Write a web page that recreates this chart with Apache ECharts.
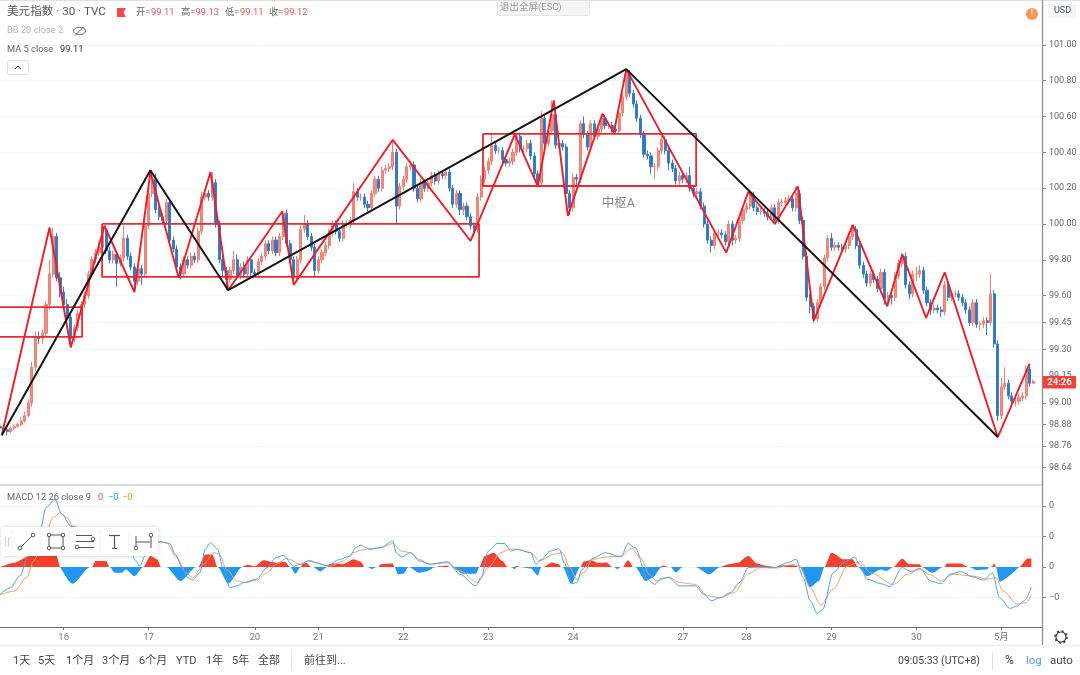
<!DOCTYPE html>
<html>
<head>
<meta charset="utf-8">
<style>html,body{margin:0;padding:0;background:#fff}#chart{width:1080px;height:675px}</style>
<script src="https://cdn.jsdelivr.net/npm/echarts@6/dist/echarts.min.js"></script>
</head>
<body>
<div id="chart"></div>
<script>
// 30 minute bars, one candle per two bars
var opens = [
98.87,98.86,98.85,98.84,98.86,98.87,98.88,98.90,98.93,99.00,
99.20,99.37,99.36,99.39,99.55,99.72,99.93,99.70,99.62,99.55,
99.48,99.36,99.42,99.50,99.55,99.60,99.72,99.80,99.84,99.87,
99.97,99.85,99.80,99.83,99.78,99.81,99.92,99.82,99.76,99.68,
99.75,99.72,99.99,100.17,100.25,100.08,100.04,100.02,100.12,99.91,
99.86,99.76,99.72,99.80,99.77,99.82,99.80,99.96,100.15,100.17,
100.15,100.23,100.00,99.80,99.74,99.69,99.74,99.80,99.71,99.76,
99.72,99.80,99.73,99.72,99.79,99.82,99.89,99.85,99.91,99.84,
99.93,100.06,99.89,99.80,99.71,99.80,99.97,100.00,99.93,99.87,
99.74,99.80,99.84,99.88,99.95,100.00,99.96,99.92,100.00,100.00,
100.02,100.18,100.15,100.15,100.11,100.09,100.17,100.25,100.20,100.30,
100.31,100.32,100.40,100.10,100.21,100.25,100.32,100.33,100.20,100.14,
100.23,100.20,100.23,100.27,100.24,100.28,100.27,100.29,100.20,100.11,
100.17,100.08,100.10,100.04,99.99,99.97,100.15,100.25,100.30,100.35,
100.44,100.41,100.41,100.36,100.34,100.35,100.40,100.49,100.42,100.42,
100.45,100.38,100.28,100.23,100.59,100.45,100.52,100.61,100.44,100.45,
100.43,100.17,100.09,100.26,100.25,100.56,100.50,100.43,100.56,100.49,
100.53,100.59,100.55,100.55,100.53,100.52,100.62,100.71,100.84,100.73,
100.67,100.59,100.50,100.39,100.38,100.32,100.32,100.41,100.47,100.41,
100.34,100.31,100.24,100.27,100.25,100.27,100.20,100.17,100.18,100.10,
100.00,99.91,99.88,99.95,99.95,99.94,99.90,100.00,99.91,99.92,
100.02,100.08,100.10,100.16,100.09,100.07,100.07,100.06,100.04,100.09,
100.02,100.12,100.12,100.13,100.14,100.09,100.17,100.02,99.82,99.59,
99.54,99.47,99.56,99.65,99.81,99.92,99.87,99.88,99.87,99.86,
99.88,99.93,99.97,99.88,99.77,99.72,99.67,99.72,99.69,99.64,
99.73,99.58,99.60,99.59,99.71,99.78,99.82,99.66,99.61,99.72,
99.72,99.74,99.63,99.56,99.52,99.53,99.52,99.51,99.66,99.59,
99.61,99.61,99.59,99.56,99.52,99.45,99.56,99.44,99.44,99.46,
99.45,99.61,99.33,98.93,99.09,99.11,99.04,99.01,99.01,99.03,
99.04,99.19,99.11];
var closes = [
98.86,98.85,98.84,98.86,98.87,98.88,98.90,98.93,99.00,99.20,
99.37,99.36,99.39,99.55,99.72,99.93,99.70,99.62,99.55,99.48,
99.36,99.42,99.50,99.55,99.60,99.72,99.80,99.84,99.87,99.97,
99.85,99.80,99.83,99.78,99.81,99.92,99.82,99.76,99.68,99.75,
99.72,99.99,100.17,100.25,100.08,100.04,100.02,100.12,99.91,99.86,
99.76,99.72,99.80,99.77,99.82,99.80,99.96,100.15,100.17,100.15,
100.23,100.00,99.80,99.74,99.69,99.74,99.80,99.71,99.76,99.72,
99.80,99.73,99.72,99.79,99.82,99.89,99.85,99.91,99.84,99.93,
100.06,99.89,99.80,99.71,99.80,99.97,100.00,99.93,99.87,99.74,
99.80,99.84,99.88,99.95,100.00,99.96,99.92,100.00,100.00,100.02,
100.18,100.15,100.15,100.11,100.09,100.17,100.25,100.20,100.30,100.31,
100.32,100.40,100.10,100.21,100.25,100.32,100.33,100.20,100.14,100.23,
100.20,100.23,100.27,100.24,100.28,100.27,100.29,100.20,100.11,100.17,
100.08,100.10,100.04,99.99,99.97,100.15,100.25,100.30,100.35,100.44,
100.41,100.41,100.36,100.34,100.35,100.40,100.49,100.42,100.42,100.45,
100.38,100.28,100.23,100.59,100.45,100.52,100.61,100.44,100.45,100.43,
100.17,100.09,100.26,100.25,100.56,100.50,100.43,100.56,100.49,100.53,
100.59,100.55,100.55,100.53,100.52,100.62,100.71,100.84,100.73,100.67,
100.59,100.50,100.39,100.38,100.32,100.32,100.41,100.47,100.41,100.34,
100.31,100.24,100.27,100.25,100.27,100.20,100.17,100.18,100.10,100.00,
99.91,99.88,99.95,99.95,99.94,99.90,100.00,99.91,99.92,100.02,
100.08,100.10,100.16,100.09,100.07,100.07,100.06,100.04,100.09,100.02,
100.12,100.12,100.13,100.14,100.09,100.17,100.02,99.82,99.59,99.54,
99.47,99.56,99.65,99.81,99.92,99.87,99.88,99.87,99.86,99.88,
99.93,99.97,99.88,99.77,99.72,99.67,99.72,99.69,99.64,99.73,
99.58,99.60,99.59,99.71,99.78,99.82,99.66,99.61,99.72,99.72,
99.74,99.63,99.56,99.52,99.53,99.52,99.51,99.66,99.59,99.61,
99.61,99.59,99.56,99.52,99.45,99.56,99.44,99.44,99.46,99.45,
99.61,99.33,98.93,99.09,99.11,99.04,99.01,99.01,99.03,99.04,
99.19,99.11,99.12];
var highs = [
98.88,98.88,98.86,98.87,98.88,98.89,98.92,98.95,99.02,99.23,
99.40,99.40,99.41,99.57,99.80,99.98,99.95,99.73,99.65,99.58,
99.50,99.44,99.52,99.57,99.62,99.74,99.82,99.86,99.90,100.00,
99.99,99.87,99.85,99.85,99.83,99.99,99.94,99.84,99.78,99.77,
99.77,100.01,100.19,100.29,100.28,100.10,100.06,100.14,100.14,99.93,
99.88,99.78,99.82,99.82,99.84,99.84,99.98,100.18,100.19,100.19,
100.29,100.25,100.02,99.82,99.76,99.76,99.85,99.83,99.78,99.79,
99.82,99.82,99.75,99.81,99.84,99.91,99.91,99.93,99.93,99.95,
100.07,100.08,99.91,99.82,99.82,99.99,100.05,100.02,99.95,99.89,
99.82,99.86,99.90,99.97,100.02,100.02,99.98,100.02,100.02,100.04,
100.23,100.20,100.17,100.17,100.13,100.19,100.27,100.27,100.32,100.33,
100.34,100.47,100.42,100.23,100.27,100.34,100.35,100.35,100.22,100.25,
100.25,100.25,100.29,100.29,100.30,100.30,100.31,100.31,100.22,100.19,
100.19,100.12,100.12,100.06,100.01,100.17,100.27,100.32,100.37,100.50,
100.46,100.43,100.43,100.38,100.37,100.42,100.51,100.51,100.44,100.47,
100.47,100.40,100.30,100.63,100.61,100.54,100.69,100.63,100.47,100.47,
100.45,100.19,100.28,100.28,100.58,100.60,100.52,100.58,100.58,100.55,
100.61,100.61,100.57,100.57,100.55,100.64,100.73,100.87,100.86,100.75,
100.69,100.61,100.52,100.41,100.40,100.34,100.43,100.49,100.49,100.43,
100.36,100.33,100.29,100.29,100.29,100.32,100.22,100.20,100.20,100.12,
100.02,99.93,99.97,99.97,99.97,99.96,100.02,100.02,99.94,100.04,
100.10,100.12,100.18,100.18,100.11,100.09,100.09,100.08,100.11,100.11,
100.14,100.14,100.15,100.16,100.16,100.21,100.19,100.04,99.84,99.61,
99.56,99.58,99.67,99.83,99.94,99.95,99.90,99.90,99.89,99.90,
99.95,99.99,99.99,99.90,99.79,99.74,99.74,99.74,99.71,99.75,
99.75,99.62,99.62,99.73,99.80,99.84,99.84,99.68,99.74,99.76,
99.77,99.76,99.65,99.58,99.55,99.55,99.54,99.68,99.68,99.62,
99.63,99.63,99.61,99.58,99.54,99.58,99.58,99.46,99.48,99.48,
99.72,99.63,99.35,99.14,99.20,99.13,99.06,99.03,99.05,99.06,
99.21,99.21,99.13];
var lows = [
98.84,98.83,98.82,98.83,98.85,98.86,98.87,98.89,98.92,98.98,
99.18,99.33,99.33,99.37,99.52,99.70,99.68,99.59,99.52,99.45,
99.33,99.34,99.40,99.48,99.53,99.58,99.70,99.78,99.82,99.85,
99.83,99.78,99.78,99.65,99.76,99.79,99.80,99.74,99.62,99.66,
99.66,99.70,99.97,100.15,100.06,100.02,100.00,100.00,99.89,99.84,
99.74,99.69,99.70,99.75,99.75,99.78,99.78,99.94,100.13,100.13,
100.13,99.98,99.78,99.70,99.63,99.67,99.72,99.69,99.69,99.70,
99.70,99.71,99.70,99.70,99.77,99.80,99.83,99.83,99.82,99.82,
99.91,99.87,99.78,99.66,99.69,99.78,99.95,99.91,99.85,99.70,
99.72,99.78,99.82,99.86,99.93,99.94,99.90,99.90,99.98,99.98,
100.00,100.13,100.13,100.09,100.07,100.07,100.15,100.18,100.18,100.28,
100.29,100.30,100.00,100.08,100.19,100.23,100.30,100.18,100.12,100.12,
100.18,100.18,100.21,100.22,100.22,100.25,100.25,100.18,100.09,100.09,
100.05,100.05,100.02,99.97,99.93,99.95,100.13,100.23,100.28,100.33,
100.39,100.39,100.34,100.32,100.32,100.33,100.38,100.40,100.40,100.40,
100.36,100.26,100.21,100.21,100.43,100.43,100.50,100.42,100.42,100.41,
100.15,100.05,100.07,100.21,100.23,100.48,100.41,100.41,100.47,100.47,
100.51,100.53,100.53,100.51,100.50,100.50,100.60,100.69,100.71,100.65,
100.57,100.48,100.37,100.36,100.28,100.25,100.30,100.39,100.39,100.30,
100.29,100.22,100.22,100.23,100.23,100.18,100.15,100.15,100.08,99.98,
99.89,99.84,99.86,99.93,99.92,99.88,99.88,99.88,99.89,99.90,
100.00,100.06,100.08,100.07,100.05,100.05,100.04,100.02,100.02,100.00,
100.00,100.10,100.10,100.11,100.07,100.07,100.00,99.80,99.57,99.50,
99.45,99.45,99.54,99.63,99.79,99.85,99.85,99.85,99.84,99.84,
99.86,99.91,99.86,99.75,99.70,99.65,99.65,99.67,99.62,99.62,
99.55,99.55,99.55,99.57,99.69,99.76,99.64,99.58,99.59,99.68,
99.70,99.61,99.54,99.49,99.50,99.50,99.48,99.49,99.57,99.57,
99.59,99.57,99.54,99.50,99.43,99.43,99.42,99.41,99.42,99.38,
99.43,99.31,98.90,98.91,99.07,99.02,98.99,98.98,98.99,99.01,
99.02,99.09,99.11];

// hand drawn strokes: [bar, price]
var redStroke = [[1,98.82],[28,99.98],[40,99.31],[59,99.99],[76,99.62],[85,100.29],[101,99.70],[119,100.29],[129,99.63],[159.5,100.07],[166,99.66],[222,100.47],[266,99.905],[291,100.50],[304,100.21],[313,100.69],[321,100.045],[340.5,100.615],[347,100.51],[354,100.865],[410.5,99.84],[423,100.18],[438,100.00],[451,100.21],[460,99.46],[482,99.995],[501.5,99.54],[510,99.83],[523.5,99.475],[534,99.73],[564,98.81],[582,99.22]];
var blackStroke = [[1,98.82],[85,100.30],[129,99.63],[354,100.865],[564,98.81]];
// boxes: [bar from, bar to, upper price, lower price]
var boxes = [[-4,46.4,99.536,99.369],[57.7,270.8,100.00,99.704],[273,393.5,100.503,100.212]];
var boxLabel = [349.5,100.11];

var priceTicks = [101,100.8,100.6,100.4,100.2,100,99.8,99.6,99.45,99.3,99.15,99,98.88,98.76,98.64];
var macdTicks = [0.2,0.1,0,-0.1];
var dayBars = [36,84,144,180,228,276,324,386,422,470,518,566];
var dayNames = ['16','17','20','21','22','23','24','27','28','29','30','5月'];

var macdLine = [[0,-0.090],[6,-0.068],[11,-0.030],[17,0.052],[23,0.129],[26,0.195],[31,0.222],[35,0.173],[40,0.134],[49,0.096],[57,0.085],[66,0.107],[74,0.063],[76,0.025],[79,0.003],[82,0.036],[85,0.080],[90,0.083],[96,0.077],[99,0.042],[103,-0.002],[106,-0.035],[109,-0.043],[113,-0.019],[116,0.058],[119,0.080],[123,0.058],[126,-0.002],[130,-0.068],[134,-0.062],[138,-0.051],[145,-0.040],[151,-0.002],[156,0.031],[160,0.038],[166,0.003],[170,0.009],[174,0.020],[179,0.014],[185,0.003],[192,0.025],[198,0.036],[201,0.063],[204,0.072],[206,0.066],[209,0.058],[215,0.063],[222,0.085],[224,0.047],[227,0.033],[232,0.047],[237,0.020],[243,0.009],[253,0.017],[260,-0.024],[269,-0.062],[272,-0.035],[276,0.052],[281,0.077],[285,0.077],[289,0.052],[292,0.058],[300,0.047],[303,0.009],[306,0.025],[311,0.052],[316,0.060],[319,0.014],[323,-0.055],[326,-0.051],[329,-0.008],[335,0.028],[342,0.047],[351,0.033],[355,0.077],[359,0.063],[366,-0.040],[370,-0.057],[374,-0.037],[378,-0.035],[384,-0.062],[393,-0.062],[398,-0.090],[402,-0.111],[407,-0.101],[413,-0.084],[418,-0.051],[423,-0.002],[430,0],[438,-0.002],[445,0.014],[450,0.025],[454,-0.035],[458,-0.111],[462,-0.153],[465,-0.139],[471,-0.019],[477,0.014],[483,0.033],[486,0.009],[490,-0.040],[498,-0.055],[503,-0.064],[510,-0.002],[515,-0.015],[520,-0.004],[526,-0.046],[532,-0.055],[537,-0.024],[543,-0.015],[550,-0.033],[556,-0.043],[561,-0.019],[565,-0.101],[571,-0.136],[575,-0.128],[579,-0.111],[583,-0.066]];
var signalLine = [[0,-0.092],[8,-0.079],[15,-0.035],[19,0.020],[25,0.096],[30,0.162],[34,0.178],[38,0.162],[41,0.134],[57,0.085],[66,0.091],[75,0.063],[83,0.058],[90,0.082],[94,0.080],[100,0.031],[105,-0.019],[109,-0.035],[115,0.009],[121,0.047],[124,0.042],[128,-0.008],[134,-0.046],[139,-0.051],[145,-0.044],[151,-0.019],[156,0.009],[162,0.028],[170,0.009],[175,0.022],[181,0.009],[187,0.003],[194,0.020],[200,0.047],[204,0.055],[209,0.060],[215,0.063],[222,0.077],[227,0.052],[232,0.047],[237,0.025],[243,0.009],[253,0.014],[260,-0.013],[270,-0.051],[276,-0.002],[283,0.047],[288,0.058],[292,0.058],[300,0.047],[305,0.020],[313,0.042],[318,0.047],[322,-0.002],[326,-0.040],[330,-0.019],[335,0.025],[343,0.033],[351,0.036],[357,0.061],[362,0.031],[367,-0.024],[371,-0.046],[378,-0.033],[384,-0.051],[393,-0.057],[400,-0.095],[407,-0.101],[415,-0.084],[423,-0.022],[430,-0.002],[438,-0.004],[447,0.007],[452,0.003],[458,-0.068],[464,-0.125],[471,-0.073],[479,0.003],[486,0.017],[492,-0.019],[505,-0.057],[513,-0.024],[520,-0.008],[526,-0.026],[532,-0.046],[539,-0.024],[550,-0.030],[558,-0.040],[563,-0.035],[567,-0.079],[575,-0.122],[580,-0.117],[583,-0.092]];
var histUp = [[0,0],[8,0.014],[17,0.036],[25,0.065],[32,0.036],[34,0],[52,0],[54,0.02],[60,0.02],[62,0],[81,0],[85,0.036],[89,0.025],[91,0],[112,0],[116,0.041],[120,0.041],[123,0],[137,0],[138,0.003],[140,0.007],[144,0.002],[149,0.022],[156,0.014],[161,0.017],[164,0],[170,0],[171,0.009],[173,0.014],[176,0],[185,0],[186,0.009],[188,0.011],[194,0.009],[200,0.025],[204,0.017],[206,0],[214,0],[215,0.009],[222,0.011],[223,0],[247,0],[248,0.002],[253,0.004],[254,0],[271,0],[274,0.036],[279,0.047],[284,0.02],[287,0],[291,0],[292,0.004],[294,0],[307,0],[312,0.015],[316,0.009],[317,0],[328,0],[330,0.018],[334,0.022],[338,0.013],[343,0.015],[346,0],[352,0],[355,0.022],[358,0],[373,0],[374,0.003],[375,0.005],[378,0],[407,0],[412,0.009],[417,0.014],[423,0.036],[428,0.011],[432,0.005],[438,0],[439,0],[440,0.004],[449,0.007],[451,0],[466,0],[470,0.047],[477,0.025],[482,0.025],[485,0],[505,0],[510,0.027],[514,0.009],[520,0.009],[521,0],[534,0],[535,0.011],[543,0.011],[547,0],[560,0],[561,0.003],[562,0.012],[563,0],[576,0],[581,0.028],[583,0.028]];
var histDown = [[34,0],[41,-0.055],[51,0],[62,0],[65,-0.019],[69,-0.019],[71,-0.008],[76,-0.03],[81,0],[94,0],[102,-0.046],[111,0],[123,0],[129,-0.054],[137,0],[164,0],[167,-0.022],[170,0],[177,0],[181,-0.015],[185,0],[208,0],[210,-0.007],[213,0],[223,0],[225,-0.024],[228,-0.022],[231,0],[237,-0.019],[241,-0.015],[246,0],[255,0],[262,-0.022],[269,-0.022],[271,0],[289,0],[291,-0.008],[292,0],[294,0],[300,-0.005],[304,-0.028],[306,0],[318,0],[323,-0.055],[328,0],[347,0],[349,-0.007],[351,0],[359,0],[365,-0.046],[369,-0.035],[374,0],[379,0],[382,-0.018],[386,0],[393,0],[401,-0.024],[407,0],[452,0],[458,-0.066],[463,-0.046],[466,0],[485,0],[490,-0.03],[498,-0.008],[501,-0.013],[505,0],[521,0],[527,-0.019],[533,0],[548,0],[552,-0.010],[558,-0.008],[559,0],[563,0],[565,-0.048],[576,0]];

var candles = closes.map(function(c, i){
	return [i * 2, opens[i], c, lows[i], highs[i]];
});
var FONT = 'Roboto, "Noto Sans CJK SC", sans-serif';
var RED = '#ea1f2b';

function lineSeries(data, color, width, xi, z){
	return {type:'line', data:data, xAxisIndex:xi, yAxisIndex:xi, symbol:'none', silent:true, z:z,
		lineStyle:{color:color, width:width}, itemStyle:{color:color}};
}
function macdSeries(data, color, z){
	var s = lineSeries(data, color, 1, 1, z);
	s.smooth = 0.3;
	s.smoothMonotone = 'x';
	return s;
}
function areaSeries(data, color){
	var s = lineSeries(data, color, 0, 1, 2);
	s.smooth = 0.25;
	s.smoothMonotone = 'x';
	s.areaStyle = {color:color, opacity:1};
	return s;
}
function txt(x, y, text, color, size, extra){
	var style = {x:x, y:y, text:text, fill:color, font:(size || 9.3) + 'px ' + FONT, textVerticalAlign:'middle'};
	for(var k in (extra || {})){ style[k] = extra[k]; }
	return {type:'text', z:50, silent:true, style:style};
}
function seg(x1, y1, x2, y2, color, w){
	return {type:'line', z:52, silent:true, shape:{x1:x1, y1:y1, x2:x2, y2:y2}, style:{stroke:color, lineWidth:w || 1}};
}
function dot(x, y){
	return {type:'circle', z:53, silent:true, shape:{cx:x, cy:y, r:1.8}, style:{fill:'#fff', stroke:'#555', lineWidth:1}};
}

var chrome = [
	seg(0, 0.5, 1080, 0.5, '#e0e0e0'),
	seg(1042.5, 0, 1042.5, 645, '#8a8a8a', 1.2),
	seg(0, 645.5, 1080, 645.5, '#eeeeee', 1.5),
	txt(7, 12.5, '美元指数 · 30 · TVC', '#555', 11.6),
	{type:'polygon', z:50, silent:true, shape:{points:[[117,8],[126,8],[123.5,12.5],[126,17],[117,17]]}, style:{fill:'#f44a4a'}},
	txt(136,12.5,'开=','#666'), txt(151,12.5,'99.11','#ef5350'),
	txt(181,12.5,'高=','#666'), txt(195.5,12.5,'99.13','#ef5350'),
	txt(225,12.5,'低=','#666'), txt(240,12.5,'99.11','#ef5350'),
	txt(269,12.5,'收=','#666'), txt(284,12.5,'99.12','#ef5350'),
	txt(7, 31, 'BB 20 close 2', '#b4b4b4'),
	{type:'ellipse', z:50, silent:true, shape:{cx:79.5, cy:31, rx:6, ry:3.6}, style:{fill:'none', stroke:'#666', lineWidth:1}},
	seg(75, 35.5, 84, 26.5, '#666'),
	txt(7, 49.5, 'MA 5 close', '#666'), txt(60, 49.5, '99.11', '#333'),
	{type:'rect', z:50, silent:true, shape:{x:7.5, y:60.5, width:21, height:14, r:2}, style:{fill:'#fff', stroke:'#ddd'}},
	{type:'polyline', z:51, silent:true, shape:{points:[[15,69],[18,66],[21,69]]}, style:{fill:'none', stroke:'#333', lineWidth:1}},
	{type:'rect', z:50, silent:true, shape:{x:497.5, y:0, width:92, height:15.5, r:2}, style:{fill:'#f5f5f5', stroke:'#e6e6e6'}},
	txt(500, 7.5, '退出全屏(ESC)', '#999', 9.5),
	{type:'circle', z:50, silent:true, shape:{cx:1032, cy:14, r:6}, style:{fill:'#f79a50'}},
	txt(1032, 14, '!', '#fff', 9, {textAlign:'center'}),
	{type:'rect', z:50, silent:true, shape:{x:1048, y:4, width:28, height:14, r:2}, style:{fill:'#f2f4f7'}},
	txt(1054, 11, 'USD', '#555', 9),
	{type:'rect', z:60, silent:true, shape:{x:1043, y:376, width:33, height:12.5, r:1}, style:{fill:'#f44336'}},
	{type:'text', z:61, silent:true, style:{x:1059.5, y:382.5, text:'24:26', fill:'#fff', font:'bold 9.5px ' + FONT, textAlign:'center', textVerticalAlign:'middle'}},
	txt(7, 497.5, 'MACD 12 26 close 9', '#666'),
	txt(98, 497.5, '0', '#ef5350'), txt(108, 497.5, '−0', '#2196f3'), txt(122, 497.5, '−0', '#ff9800'),
	// drawing toolbar
	{type:'rect', z:51, silent:true, shape:{x:1, y:527, width:157, height:29, r:3}, style:{fill:'#fff', shadowBlur:5, shadowColor:'rgba(0,0,0,0.18)'}},
	seg(5.5, 537, 5.5, 547, '#d5d5d5', 1.2), seg(8.5, 537, 8.5, 547, '#d5d5d5', 1.2),
	seg(12, 530, 12, 553, '#f0f0f0'), seg(41, 530, 41, 553, '#f0f0f0'), seg(70, 530, 70, 553, '#f0f0f0'), seg(100, 530, 100, 553, '#f0f0f0'), seg(129, 530, 129, 553, '#f0f0f0'),
	seg(20, 548, 33, 535, '#555'), dot(20, 548), dot(33, 535),
	{type:'rect', z:52, silent:true, shape:{x:49, y:535, width:14, height:13}, style:{fill:'none', stroke:'#555'}},
	dot(49, 535), dot(63, 535), dot(49, 548), dot(63, 548),
	seg(76, 535.5, 92, 535.5, '#555'), seg(76, 541.5, 94, 541.5, '#555'), seg(78, 547.5, 94, 547.5, '#555'), dot(93, 539), dot(77, 547),
	seg(109, 535.5, 120, 535.5, '#555', 1.2), seg(114.5, 535.5, 114.5, 548.5, '#555', 1.2), seg(112, 548.5, 117, 548.5, '#555'),
	seg(136, 536, 136, 548, '#555'), seg(151, 536, 151, 548, '#555'), seg(136, 542, 150, 542, '#555'), dot(136, 548), dot(151, 535),
	// bottom bar
	txt(13,661,'1天','#444',11), txt(38,661,'5天','#444',11), txt(66,661,'1个月','#444',11), txt(102,661,'3个月','#444',11), txt(139,661,'6个月','#444',11),
	txt(176,661,'YTD','#444',11), txt(206,661,'1年','#444',11), txt(232,661,'5年','#444',11), txt(258,661,'全部','#444',11),
	seg(291.5, 652, 291.5, 670, '#e4e4e4'),
	txt(304,661,'前往到...','#444',11),
	txt(898,661,'09:05:33 (UTC+8)','#444',10.5),
	seg(992.5, 652, 992.5, 670, '#e4e4e4'),
	txt(1005,661,'%','#444',12), txt(1026,661,'log','#5b9cf0',11.5), txt(1050,661,'auto','#444',11.5),
	// settings gear
	{type:'circle', z:50, silent:true, shape:{cx:1061, cy:637, r:6}, style:{fill:'none', stroke:'#333', lineWidth:1.6, lineDash:[2,2.7]}},
	{type:'circle', z:51, silent:true, shape:{cx:1061, cy:637, r:5}, style:{fill:'#fff', stroke:'#333', lineWidth:1.1}}
];

var seriesList = [
	{type:'candlestick', data:candles, xAxisIndex:0, yAxisIndex:0, encode:{x:0, y:[1,2,3,4]}, barWidth:2.6, silent:true, z:2,
		itemStyle:{color:'#f08f80', color0:'#2f78c4', borderColor:'#ef7e74', borderColor0:'#3a7cc6', borderWidth:1}},
	lineSeries(redStroke, RED, 1.9, 0, 5),
	lineSeries(blackStroke, '#151515', 2, 0, 6)
];
boxes.forEach(function(b){
	seriesList.push(lineSeries([[b[0],b[2]],[b[1],b[2]],[b[1],b[3]],[b[0],b[3]],[b[0],b[2]]], '#ea2a32', 1.8, 0, 4));
});
seriesList.push({type:'scatter', data:[boxLabel], xAxisIndex:0, yAxisIndex:0, symbolSize:0, silent:true,
	label:{show:true, position:'inside', formatter:'中枢A', color:'#666', fontSize:12.5, fontFamily:FONT}});
seriesList.push(areaSeries(histUp, '#f6402e'), areaSeries(histDown, '#2196f3'));
seriesList.push(macdSeries(signalLine, '#f0a06a', 3), macdSeries(macdLine, '#4aa3e8', 4));

var option = {
	animation:false,
	backgroundColor:'#fff',
	textStyle:{fontFamily:FONT},
	grid:[
		{left:0, top:0, width:1042, height:485},
		{left:0, top:485, width:1042, height:142}
	],
	xAxis:[
		{type:'value', gridIndex:0, min:0, max:589, splitLine:{show:false}, axisTick:{show:false}, axisLabel:{show:false},
			axisLine:{show:true, onZero:false, lineStyle:{color:'#cfcfcf', width:1.5}}},
		{type:'value', gridIndex:1, min:0, max:589, splitLine:{show:false},
			axisTick:{show:true, length:3, customValues:dayBars, lineStyle:{color:'#777'}},
			axisLine:{show:true, onZero:false, lineStyle:{color:'#6e6e6e', width:1.2}},
			axisLabel:{show:true, customValues:dayBars, margin:6, color:'#777', fontSize:9.5, fontFamily:FONT,
				formatter:function(v){ return dayNames[dayBars.indexOf(v)]; }}}
	],
	yAxis:[
		{type:'value', gridIndex:0, position:'right', scale:true, min:98.542, max:101.251,
			axisLine:{show:false, onZero:false},
			axisTick:{show:true, length:4, customValues:priceTicks, lineStyle:{color:'#888'}},
			splitLine:{show:true, lineStyle:{color:'#f4f4f4', width:1}},
			axisLabel:{show:true, customValues:priceTicks, margin:7, color:'#666', fontSize:9, fontFamily:FONT,
				formatter:function(v){ return v.toFixed(2); }}},
		{type:'value', gridIndex:1, position:'right', scale:true, min:-0.197, max:0.269,
			axisLine:{show:false, onZero:false},
			axisTick:{show:true, length:4, customValues:macdTicks, lineStyle:{color:'#888'}},
			splitLine:{show:true, lineStyle:{color:'#f4f4f4', width:1}},
			axisLabel:{show:true, customValues:macdTicks, margin:7, color:'#666', fontSize:9, fontFamily:FONT,
				formatter:function(v){ return v < 0 ? '−0' : '0'; }}}
	],
	graphic:{elements:chrome},
	series:seriesList
};

var myChart = echarts.init(document.getElementById('chart'), null, {renderer:'canvas'});
myChart.setOption(option);
</script>
</body>
</html>
